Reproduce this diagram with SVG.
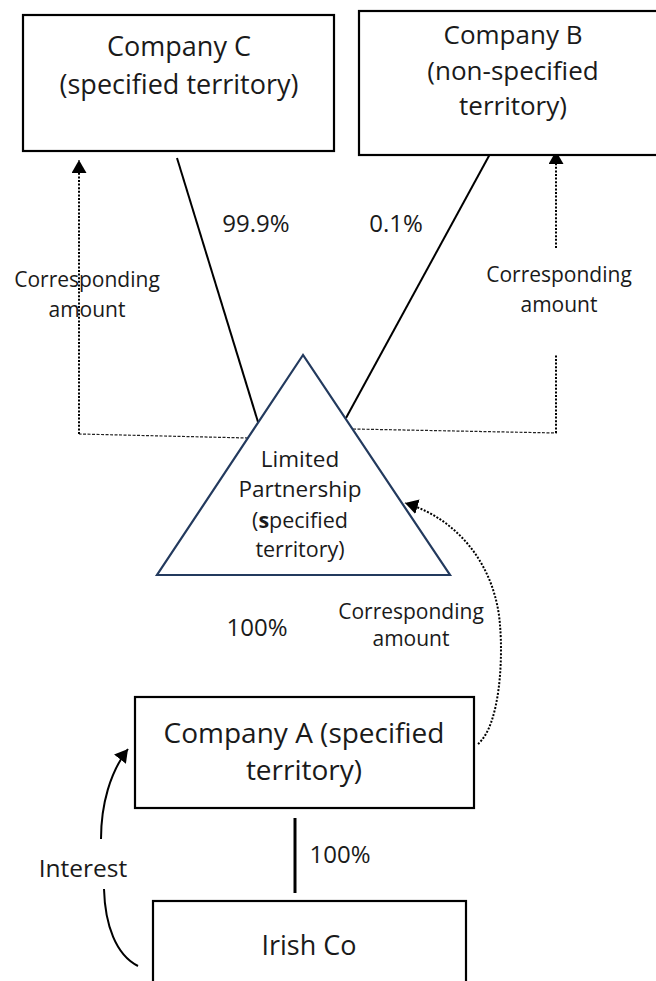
<svg xmlns="http://www.w3.org/2000/svg" width="656" height="981" viewBox="0 0 656 981">
<style>
  .box { fill: #ffffff; stroke: #000000; stroke-width: 2.2; }
  .tri { fill: #ffffff; stroke: #233a5e; stroke-width: 2.2; stroke-linejoin: miter; }
  text { font-family: "Open Sans", "Liberation Sans", sans-serif; fill: #1a1a1a; text-anchor: middle; }
  .own { stroke: #000000; stroke-width: 2; fill: none; }
  .dot { stroke: #000000; stroke-width: 2; stroke-dasharray: 2 1.6; fill: none; }
  .thin { stroke: #222222; stroke-width: 1.2; stroke-dasharray: 3 1.5; fill: none; }
  .solidarrow { stroke: #000000; stroke-width: 2; fill: none; }
</style>
<defs>
  <marker id="ah" markerUnits="userSpaceOnUse" markerWidth="16" markerHeight="16" refX="13" refY="7.5" orient="auto">
    <path d="M0,0 L13,7.5 L0,15 Z" fill="#000000"/>
  </marker>
</defs>
<rect width="656" height="981" fill="#ffffff"/>

<g id="connectors">
  <line class="own" x1="177" y1="158" x2="258" y2="422"/>
  <line class="own" x1="490" y1="154" x2="346" y2="418"/>
  <line x1="295" y1="818" x2="295" y2="893" stroke="#000000" stroke-width="3"/>
  <!-- corresponding amount to C -->
  <polyline class="thin" points="248,438 79,434"/>
  <path class="dot" d="M79,434 L79,160" marker-end="url(#ah)"/>
  <!-- corresponding amount to B -->
  <polyline class="thin" points="353,429 557,433"/>
  <line class="dot" x1="556" y1="433" x2="556" y2="355"/>
  <path class="dot" d="M556,248 L556,151" marker-end="url(#ah)"/>
  <!-- corresponding amount to LP -->
  <path class="dot" d="M478,744 C500,725 503,660 500,625 C496,570 462,520 405,503" marker-end="url(#ah)"/>
  <!-- interest -->
  <path class="solidarrow" d="M138,966 C116,955 105,925 104,889"/>
  <path class="solidarrow" d="M101,839 C101,805 110,772 128,749" marker-end="url(#ah)"/>
</g>

<g id="companyC">
  <rect class="box" x="23" y="15" width="311" height="136"/>
  <text x="179" y="56" font-size="27">Company C</text>
  <text x="179" y="94" font-size="27">(specified territory)</text>
</g>

<g id="companyB">
  <rect class="box" x="359" y="11" width="305" height="144"/>
  <text x="513" y="44" font-size="26">Company B</text>
  <text x="513" y="80" font-size="26">(non-specified</text>
  <text x="513" y="115" font-size="26">territory)</text>
</g>

<g id="limitedPartnership">
  <polygon class="tri" points="303,355 157,575 450,575"/>
  <text x="300" y="467" font-size="22.5">Limited</text>
  <text x="300" y="497" font-size="22.5">Partnership</text>
  <text x="300" y="528" font-size="21.5">(<tspan font-weight="bold">s</tspan>pecified</text>
  <text x="300" y="557" font-size="21.5">territory)</text>
</g>

<g id="companyA">
  <rect class="box" x="135" y="697" width="339" height="111"/>
  <text x="304" y="743" font-size="28">Company A (specified</text>
  <text x="304" y="780" font-size="28">territory)</text>
</g>

<g id="irishCo">
  <rect class="box" x="153" y="901" width="313" height="100"/>
  <text x="309" y="955" font-size="27">Irish Co</text>
</g>

<g id="labels">
  <text x="256" y="232" font-size="24">99.9%</text>
  <text x="396" y="232" font-size="24">0.1%</text>
  <text x="87" y="287" font-size="21">Corresponding</text>
  <text x="87" y="317" font-size="21">amount</text>
  <text x="559" y="282" font-size="21">Corresponding</text>
  <text x="559" y="312" font-size="21">amount</text>
  <text x="411" y="619" font-size="21">Corresponding</text>
  <text x="411" y="646" font-size="21">amount</text>
  <text x="257" y="636" font-size="24">100%</text>
  <text x="340" y="863" font-size="24">100%</text>
  <text x="83" y="877" font-size="24.5">Interest</text>
</g>
</svg>
